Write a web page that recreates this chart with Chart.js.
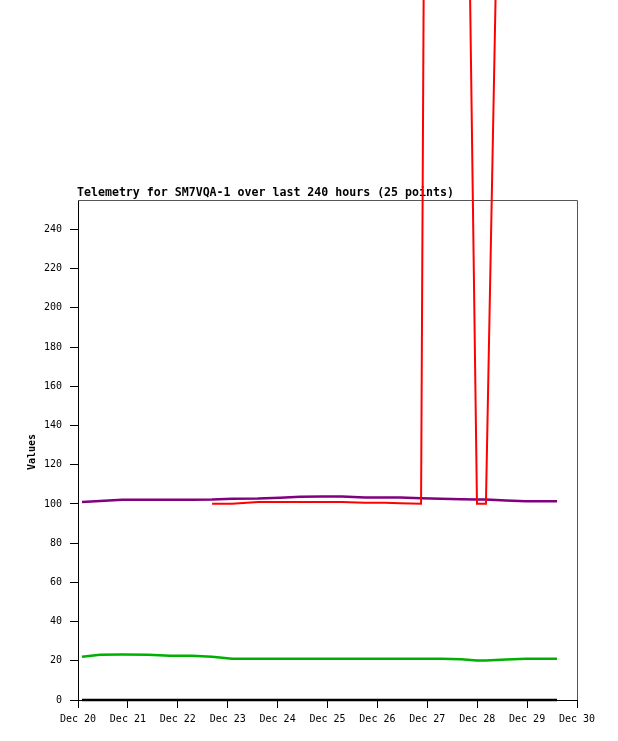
<!DOCTYPE html>
<html>
<head>
<meta charset="utf-8">
<script src="https://cdn.jsdelivr.net/npm/chart.js@4/dist/chart.umd.min.js"></script>
<style>
  html, body { margin: 0; padding: 0; background: #ffffff; }
  canvas { display: block; }
</style>
</head>
<body>
<canvas id="c" width="618" height="741"></canvas>
<script>
// Time of each of the 25 telemetry points, in hours after Dec 20 00:00
const hours = [1.9, 10.6, 21.2, 33.7, 44.3, 54.8, 64.5, 74.1, 86.6, 97.2, 106.8, 117.4, 127.0,
               138.0, 147.7, 154.9, 165.0, 174.6, 184.2, 191.9, 196.2, 205.9, 215.5, 222.7, 230.4];

// Series values
const redValues    = [null, null, null, null, null, null, 100.1, 100.1, 101.0, 101.0, 101.0, 101.0, 101.0,
                      100.6, 100.6, 100.4, 100.1, 2100, 700, 100.1, 100.1, 640, 900, 1200, 800];
const purpleValues = [101.0, 101.5, 102.1, 102.1, 102.1, 102.1, 102.2, 102.7, 102.8, 103.2, 103.7, 103.8, 103.8,
                      103.3, 103.3, 103.3, 102.9, 102.6, 102.4, 102.3, 102.3, 101.8, 101.3, 101.3, 101.3];
const greenValues  = [22.1, 23.1, 23.2, 23.1, 22.6, 22.6, 22.1, 21.1, 21.1, 21.1, 21.1, 21.1, 21.1,
                      21.1, 21.1, 21.1, 21.1, 21.1, 20.8, 20.1, 20.1, 20.6, 21.1, 21.1, 21.1];
const blackValues  = [0, 0, 0, 0, 0, 0, 0, 0, 0, 0, 0, 0, 0,
                      0, 0, 0, 0, 0, 0, 0, 0, 0, 0, 0, 0];

// Axis labelling
const startDay = 20;
const monthName = 'Dec';
const titleText = 'Telemetry for SM7VQA-1 over last 240 hours (25 points)';
const yAxisTitle = 'Values';

const toPoints = vals => hours.map((h, i) => ({ x: h, y: vals[i] }));

const MONO = '"DejaVu Sans Mono", "Liberation Mono", monospace';

const deco = {
  id: 'deco',
  beforeDatasetsDraw(chart) {
    const { ctx, chartArea: a } = chart;
    ctx.save();
    // top and right frame
    ctx.strokeStyle = '#555555';
    ctx.lineWidth = 1;
    ctx.beginPath();
    ctx.moveTo(Math.round(a.left), Math.round(a.top) + 0.5);
    ctx.lineTo(Math.round(a.right) + 0.5, Math.round(a.top) + 0.5);
    ctx.lineTo(Math.round(a.right) + 0.5, Math.round(a.bottom));
    ctx.stroke();
    // chart title
    ctx.fillStyle = '#000000';
    ctx.font = 'bold 11.6px ' + MONO;
    ctx.textAlign = 'left';
    ctx.textBaseline = 'middle';
    ctx.fillText(titleText, a.left - 1, a.top - 7);
    // y axis title
    ctx.translate(32, (a.top + a.bottom) / 2 + 2);
    ctx.rotate(-Math.PI / 2);
    ctx.font = 'bold 10px ' + MONO;
    ctx.textAlign = 'center';
    ctx.fillText(yAxisTitle, 0, 0);
    ctx.restore();
  }
};

new Chart(document.getElementById('c'), {
  type: 'line',
  data: {
    datasets: [
      { label: 'red',    data: toPoints(redValues),    borderColor: '#ff0000', borderWidth: 2, clip: false, spanGaps: false },
      { label: 'purple', data: toPoints(purpleValues), borderColor: '#800080', borderWidth: 2.5, clip: false },
      { label: 'green',  data: toPoints(greenValues),  borderColor: '#00b000', borderWidth: 2.5, clip: false },
      { label: 'black',  data: toPoints(blackValues),  borderColor: '#000000', borderWidth: 2.5, clip: false }
    ]
  },
  options: {
    responsive: false,
    animation: false,
    devicePixelRatio: 1,
    layout: { padding: { top: 200, right: 41, left: 0, bottom: 0 } },
    elements: { point: { radius: 0 }, line: { tension: 0, borderCapStyle: 'butt' } },
    plugins: { legend: { display: false }, title: { display: false }, tooltip: { enabled: false } },
    scales: {
      x: {
        type: 'linear',
        min: 0,
        max: 240,
        afterFit: s => { s.height = 41; },
        ticks: {
          stepSize: 24,
          autoSkip: false,
          maxRotation: 0,
          padding: 5,
          color: '#000000',
          font: { family: MONO, size: 10 },
          callback: v => monthName + ' ' + (startDay + v / 24)
        },
        grid: { drawOnChartArea: false, drawTicks: true, tickLength: 8, color: '#000000' },
        border: { display: true, color: '#000000', width: 1 }
      },
      y: {
        min: 0,
        max: 255,
        afterFit: s => { s.width = 78; },
        ticks: {
          stepSize: 20,
          includeBounds: false,
          padding: 8,
          color: '#000000',
          font: { family: MONO, size: 10 }
        },
        grid: { drawOnChartArea: false, drawTicks: true, tickLength: 8, color: '#000000' },
        border: { display: true, color: '#000000', width: 1 }
      }
    }
  },
  plugins: [deco]
});
</script>
</body>
</html>
